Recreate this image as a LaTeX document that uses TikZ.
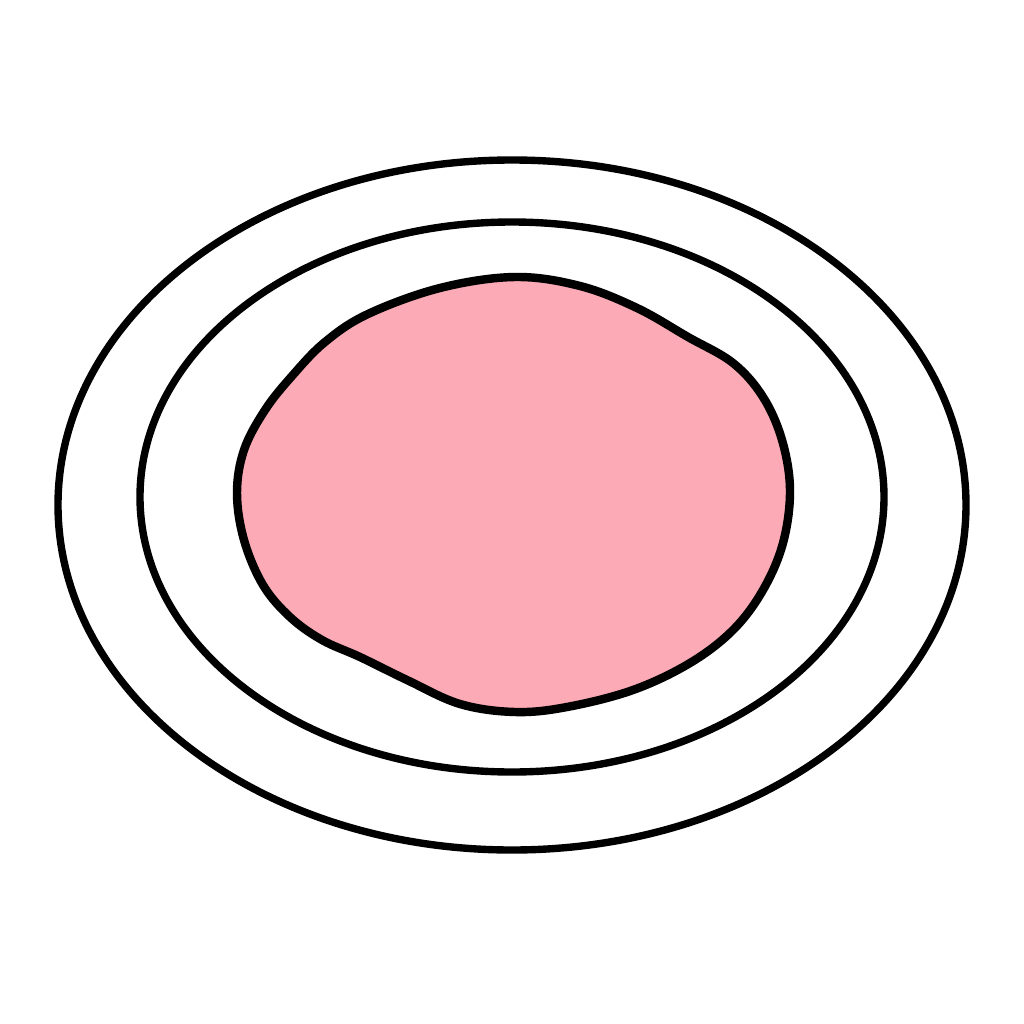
\documentclass[tikz,border=0pt]{standalone}
\definecolor{blobpink}{RGB}{252,171,182}

\begin{document}
\begin{tikzpicture}[x=0.01cm,y=-0.01cm,ring/.style={line width=2.1pt}]
\useasboundingbox[fill=white] (0,0) rectangle (1024,1024);
\draw[ring] (512,505) ellipse [x radius=454, y radius=345];
\draw[ring] (512,497) ellipse [x radius=372, y radius=275];
\filldraw[fill=blobpink,line width=2.4pt] plot[smooth cycle,tension=0.6] coordinates
{(515,277) (580,286) (637,308) (688,337) (733,363) (763,397) (782,440)
 (790,490) (783,543) (763,590) (733,630) (690,663) (633,690) (567,707) (515,712)
 (460,704) (407,680) (360,657) (322,640) (290,617) (263,585) (244,540)
 (237,493) (244,450) (265,410) (292,376) (325,342) (368,314) (440,288)};
\end{tikzpicture}
\end{document}
